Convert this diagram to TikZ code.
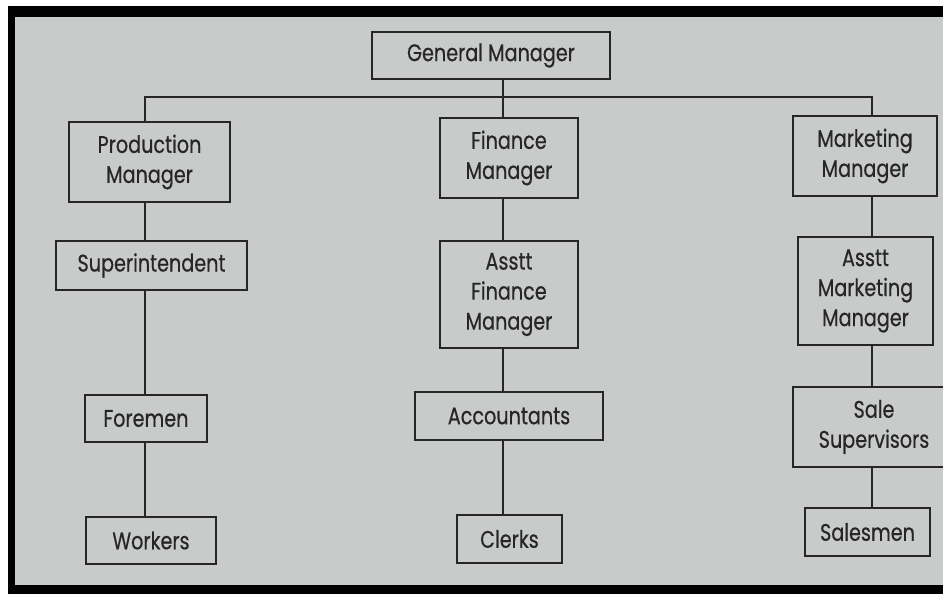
\documentclass[tikz,border=0pt]{standalone}
\usepackage{fontspec}
\setmainfont[FakeStretch=0.8,FakeBold=0.5]{Poppins}
\definecolor{paper}{HTML}{C9CBCB}
\definecolor{ink}{HTML}{262626}
\begin{document}
\begin{tikzpicture}[x=1pt,y=-1pt,
  box/.style={draw=ink, line width=2.8pt, inner sep=0pt, outer sep=0pt, align=center, text=ink, font=\fontsize{24}{30}\selectfont},
  link/.style={draw=ink, line width=2.5pt, line join=miter}]
\useasboundingbox (0,0) rectangle (943,594);
\clip (0,0) rectangle (943,594);
\fill[white] (0,0) rectangle (943,594);
\fill[black] (8,6) rectangle (943,594);
\fill[paper] (15,17) rectangle (943,585);

\node[box, minimum width=238pt, minimum height=47pt] (gm) at (491,55.5) {General Manager};

\node[box, minimum width=161pt, minimum height=80pt] (pm) at (149.5,162) {Production\\Manager};
\node[box, minimum width=191pt, minimum height=49pt] (sup) at (151.5,265.5) {Superintendent};
\node[box, minimum width=122pt, minimum height=47pt] (fore) at (146,418.5) {Foremen};
\node[box, minimum width=130pt, minimum height=47pt] (work) at (151,540.5) {Workers};

\node[box, minimum width=138pt, minimum height=80pt] (fm) at (509,158) {Finance\\Manager};
\node[box, minimum width=138pt, minimum height=107pt] (afm) at (509,294.5) {Asstt\\Finance\\Manager};
\node[box, minimum width=188pt, minimum height=48pt] (acc) at (509,416) {Accountants};
\node[box, minimum width=105pt, minimum height=48pt] (clk) at (509.5,539) {Clerks};

\node[box, minimum width=144pt, minimum height=80pt] (mm) at (865,156) {Marketing\\Manager};
\node[box, minimum width=135pt, minimum height=108pt] (amm) at (865.5,291) {Asstt\\Marketing\\Manager};
\node[box, minimum width=162pt, minimum height=80pt] (ss) at (874,427) {Sale\\Supervisors};
\node[box, minimum width=125pt, minimum height=48pt] (sal) at (867.5,532) {Salesmen};

\coordinate (busL) at (145,97);
\coordinate (busM) at (503,97);
\coordinate (busR) at (872,97);

\draw[link] (gm.south -| busM) -- (busM);
\draw[link] (pm.north -| busL) -- (busL) -- (busR) -- (mm.north -| busR);
\draw[link] (busM) -- (fm.north -| busM);

\draw[link] (pm.south -| busL) -- (sup.north -| busL);
\draw[link] (sup.south -| busL) -- (fore.north -| busL);
\draw[link] (fore.south -| busL) -- (work.north -| busL);

\draw[link] (fm.south -| busM) -- (afm.north -| busM);
\draw[link] (afm.south -| busM) -- (acc.north -| busM);
\draw[link] (acc.south -| busM) -- (clk.north -| busM);

\draw[link] (mm.south -| busR) -- (amm.north -| busR);
\draw[link] (amm.south -| busR) -- (ss.north -| busR);
\draw[link] (ss.south -| busR) -- (sal.north -| busR);
\end{tikzpicture}
\end{document}
